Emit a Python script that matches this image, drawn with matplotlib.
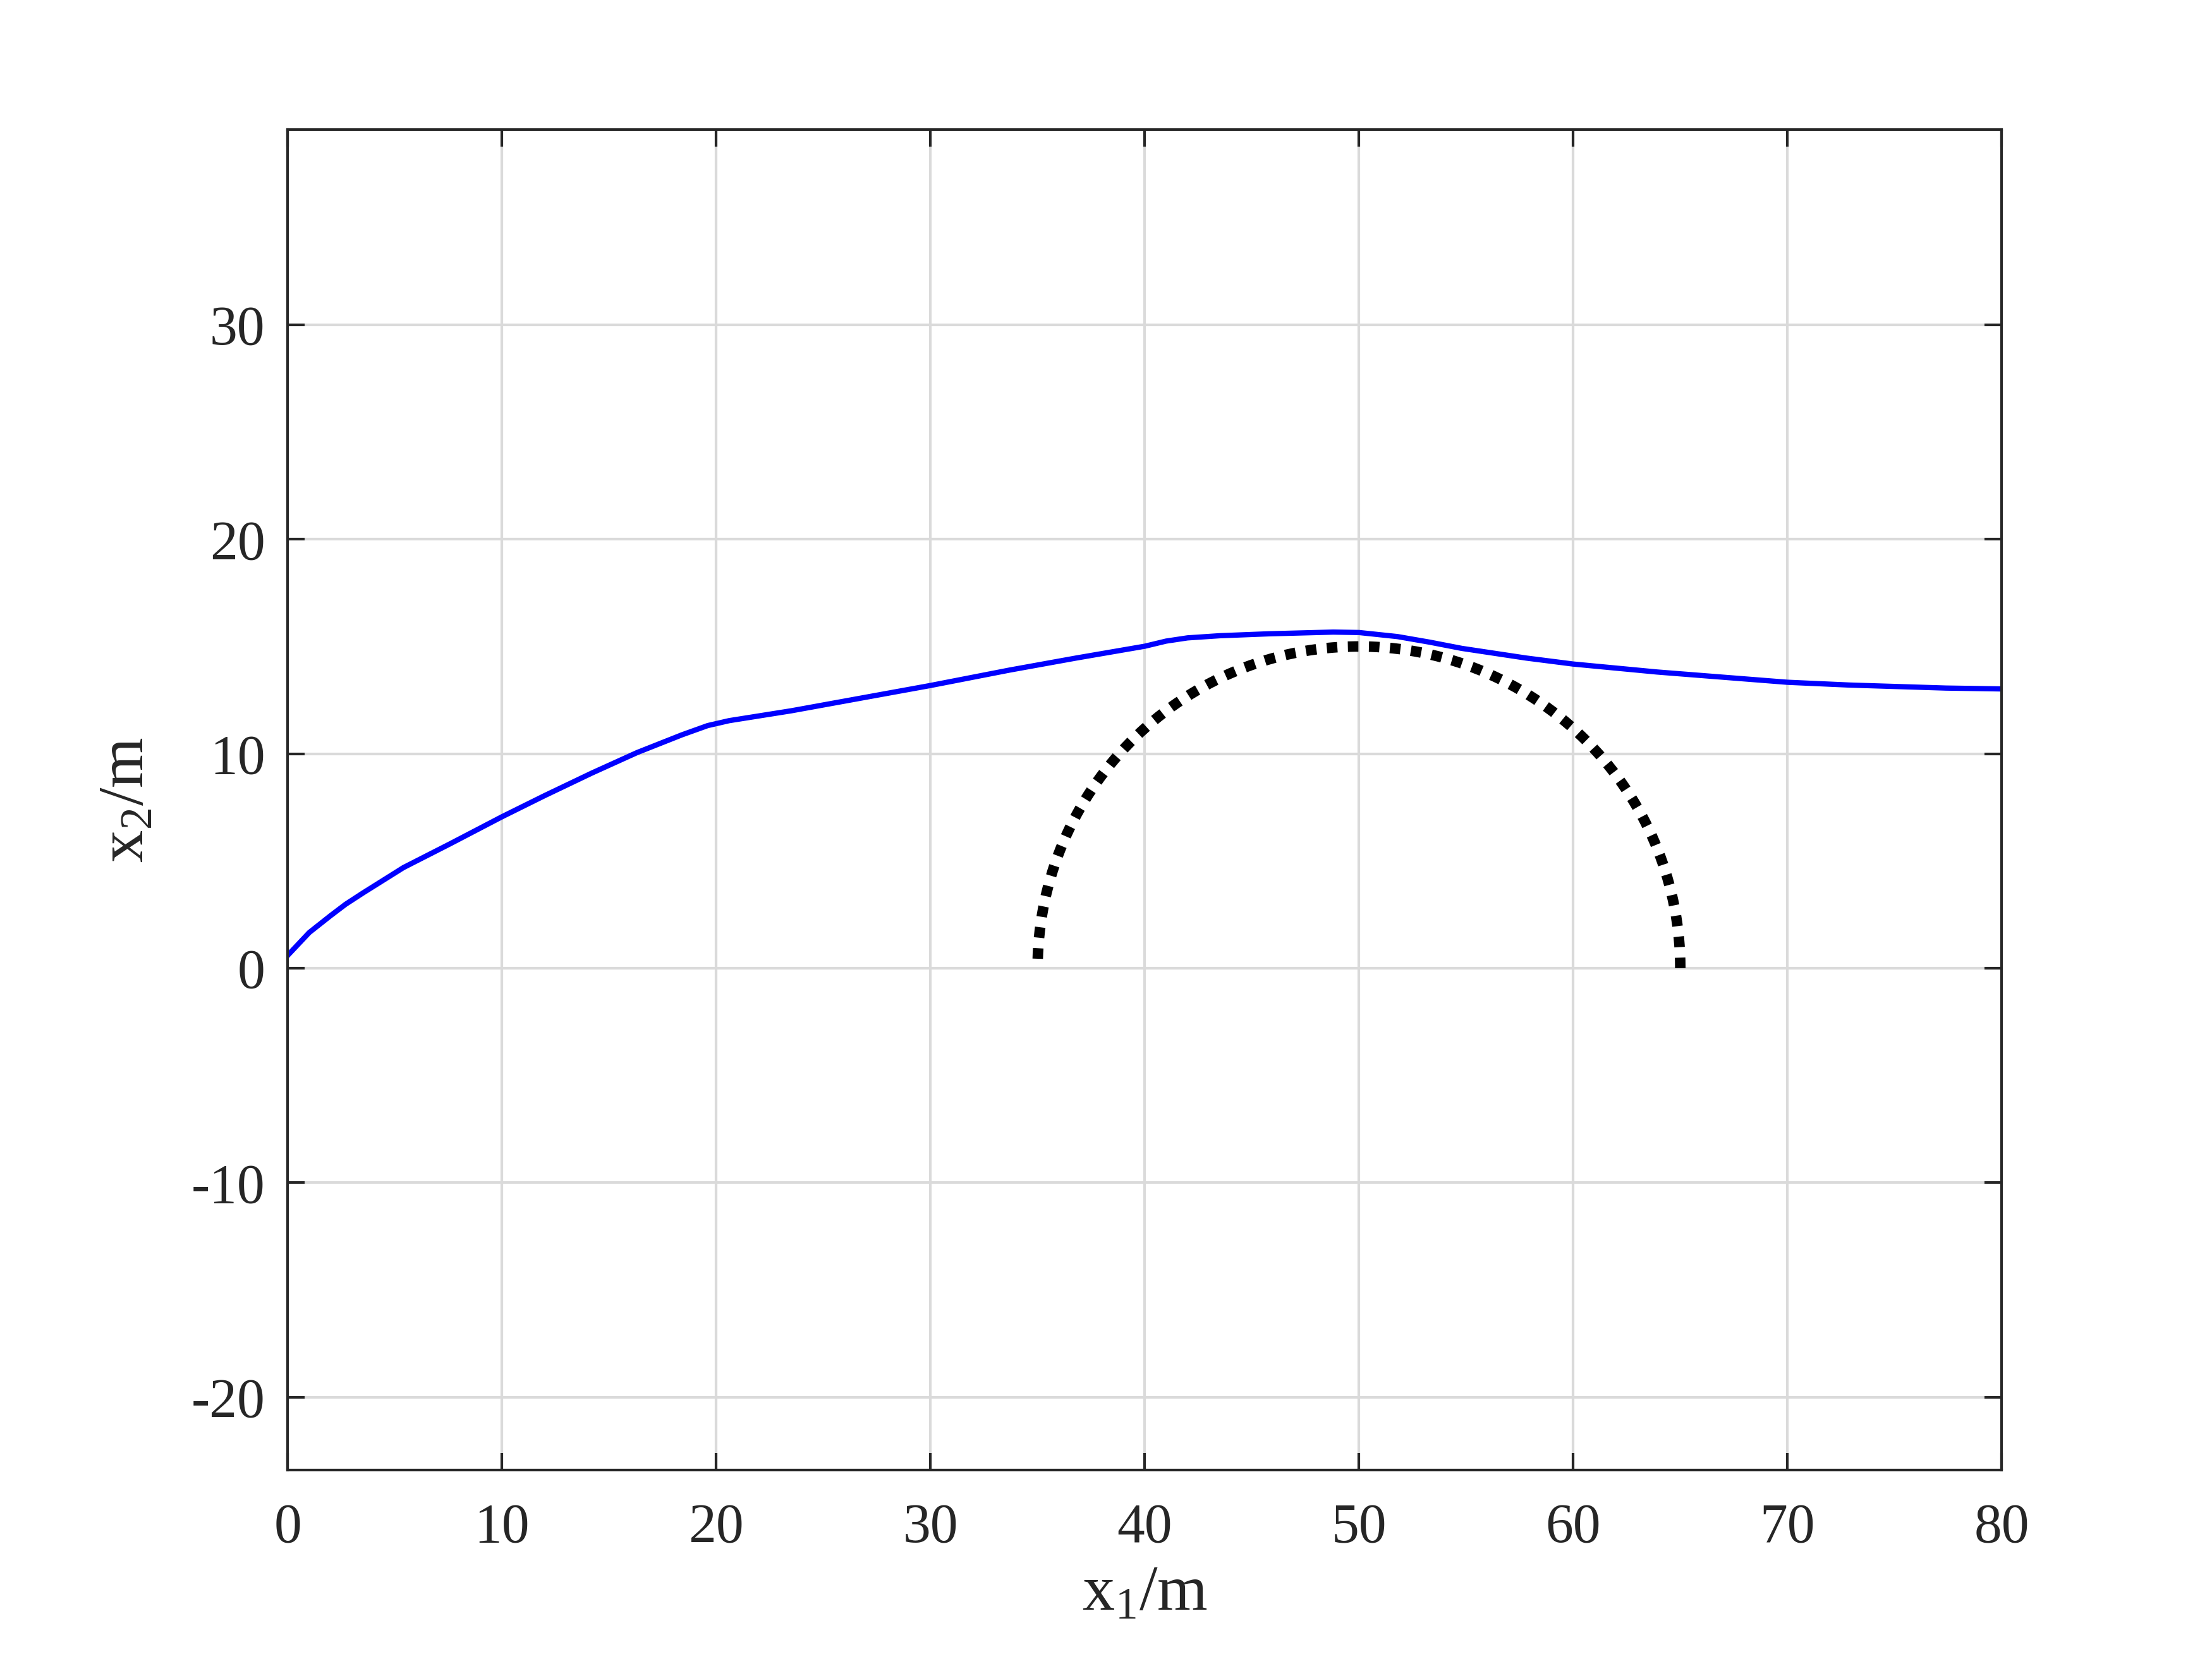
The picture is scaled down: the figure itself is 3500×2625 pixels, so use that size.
import numpy as np
import matplotlib
matplotlib.use("Agg")
import matplotlib.pyplot as plt

plt.rcParams['font.family'] = ['Liberation Serif', 'DejaVu Serif']
plt.rcParams['mathtext.fontset'] = 'custom'
plt.rcParams['mathtext.rm'] = 'Liberation Serif'
plt.rcParams['mathtext.it'] = 'Liberation Serif'
plt.rcParams['axes.unicode_minus'] = False

# vehicle path
path_x1 = [0.0, 1.0, 2.0, 2.7, 3.5, 5.4, 7.6, 10.0, 12.0, 14.2, 16.3, 18.4, 19.6, 20.6,
           23.5, 30.0, 33.7, 36.8, 40.0, 41.0, 42.0, 43.5, 45.8, 48.8, 50.0, 51.8,
           53.3, 54.8, 57.8, 60.0, 63.9, 70.0, 72.9, 77.4, 80.0]
path_x2 = [0.6, 1.66, 2.45, 2.98, 3.5, 4.69, 5.81, 7.06, 8.05, 9.1, 10.05, 10.88, 11.31, 11.54,
           12.0, 13.18, 13.9, 14.46, 15.01, 15.25, 15.4, 15.5, 15.59, 15.67, 15.65, 15.46,
           15.2, 14.91, 14.46, 14.18, 13.81, 13.33, 13.2, 13.06, 13.02]

# obstacle: half circle
obs_center = (50.0, 0.0)
obs_radius = 15.0

xlim = (0, 80)
ylim = (-23.4, 39.1)
xticks = [0, 10, 20, 30, 40, 50, 60, 70, 80]
yticks = [-20, -10, 0, 10, 20, 30]

ink = '#262626'

fig = plt.figure(figsize=(3500 / 600, 2625 / 600), dpi=600)
ax = fig.add_axes([0.1301, 0.1139, 0.7748, 0.8080])

ax.grid(True, color='#dadada', linewidth=0.5)
ax.set_axisbelow(True)

ax.plot(path_x1, path_x2, color='#0000ff', linewidth=1.0, solid_joinstyle='round')

theta = np.linspace(0, np.pi, 400)
ax.plot(obs_center[0] + obs_radius * np.cos(theta),
        obs_center[1] + obs_radius * np.sin(theta),
        color='black', linewidth=2.0, linestyle=(0, (1, 1)), dash_capstyle='butt')

ax.set_xlim(*xlim)
ax.set_ylim(*ylim)
ax.set_xticks(xticks)
ax.set_yticks(yticks)

for s in ax.spines.values():
    s.set_linewidth(0.5)
    s.set_color(ink)

ax.tick_params(direction='in', length=3.2, width=0.5, color=ink, labelcolor=ink,
               labelsize=10.5, top=True, right=True)
ax.tick_params(axis='x', pad=6.2)
ax.tick_params(axis='y', pad=4.3)

ax.set_xlabel(r'x$_{\mathrm{1}}$/m', fontsize=12.3, color=ink, va='baseline')
ax.xaxis.set_label_coords(0.5, -0.1047)
ax.set_ylabel(r'x$_{\mathrm{2}}$/m', fontsize=12.3, color=ink, va='baseline')
ax.yaxis.set_label_coords(-0.0844, 0.5)

fig.savefig('out.png', dpi=600, facecolor='white')
